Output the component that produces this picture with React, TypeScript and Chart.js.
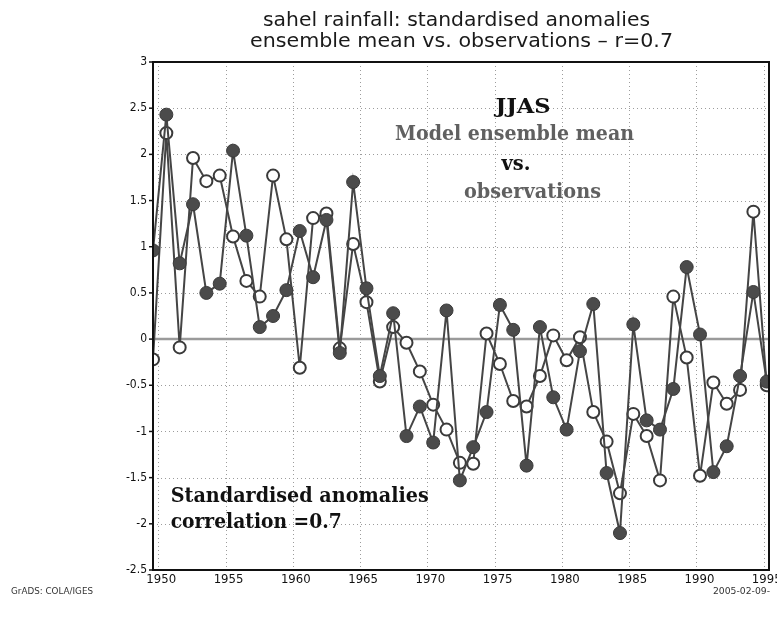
import React, { useEffect, useRef } from "react";
import { Chart, registerables } from "chart.js";

Chart.register(...registerables);

// ---------- data ----------
const years = [
  1949, 1950, 1951, 1952, 1953, 1954, 1955, 1956, 1957, 1958, 1959, 1960,
  1961, 1962, 1963, 1964, 1965, 1966, 1967, 1968, 1969, 1970, 1971, 1972,
  1973, 1974, 1975, 1976, 1977, 1978, 1979, 1980, 1981, 1982, 1983, 1984,
  1985, 1986, 1987, 1988, 1989, 1990, 1991, 1992, 1993, 1994, 1995,
];

// filled markers
const modelMean = [
  0.96, 2.43, 0.82, 1.46, 0.5, 0.6, 2.04, 1.12, 0.13, 0.25, 0.53, 1.17,
  0.67, 1.29, -0.15, 1.7, 0.55, -0.4, 0.28, -1.05, -0.73, -1.12, 0.31, -1.53,
  -1.17, -0.79, 0.37, 0.1, -1.37, 0.13, -0.63, -0.98, -0.13, 0.38, -1.45, -2.1,
  0.16, -0.88, -0.98, -0.54, 0.78, 0.05, -1.44, -1.16, -0.4, 0.51, -0.46,
];

// open markers
const observations = [
  -0.22, 2.23, -0.09, 1.96, 1.71, 1.77, 1.11, 0.63, 0.46, 1.77, 1.08, -0.31,
  1.31, 1.36, -0.1, 1.03, 0.4, -0.46, 0.13, -0.04, -0.35, -0.71, -0.98, -1.34,
  -1.35, 0.06, -0.27, -0.67, -0.73, -0.4, 0.04, -0.23, 0.02, -0.79, -1.11, -1.67,
  -0.81, -1.05, -1.53, 0.46, -0.2, -1.48, -0.47, -0.7, -0.55, 1.38, -0.5,
];

const yearTicks = [1950, 1955, 1960, 1965, 1970, 1975, 1980, 1985, 1990, 1995];
const valueTicks = [-2.5, -2, -1.5, -1, -0.5, 0, 0.5, 1, 1.5, 2, 2.5, 3];

const titleLines = [
  "sahel rainfall: standardised anomalies",
  "ensemble mean vs. observations \u2013 r=0.7",
];
const footerLeft = "GrADS: COLA/IGES";
const footerRight = "2005-02-09-";

// ---------- drawing helpers ----------
const NARROW = "'Liberation Sans Narrow', 'DejaVu Sans Condensed', 'Arial Narrow', sans-serif";
const SERIF = "'DejaVu Serif', 'Liberation Serif', serif";
const SANS = "'DejaVu Sans', 'Liberation Sans', sans-serif";

function fitText(
  ctx: CanvasRenderingContext2D,
  text: string,
  x: number,
  y: number,
  width: number,
  align: CanvasTextAlign
) {
  const m = ctx.measureText(text).width || 1;
  ctx.save();
  ctx.translate(x, y);
  ctx.scale(width / m, 1);
  ctx.textAlign = align;
  ctx.textBaseline = "alphabetic";
  ctx.fillText(text, 0, 0);
  ctx.restore();
}

const decorPlugin = {
  id: "decor",
  beforeDatasetsDraw(chart: any) {
    const { ctx, chartArea: a, scales } = chart;
    const xs = scales.xYear;
    const ys = scales.y;
    ctx.save();
    ctx.strokeStyle = "#9c9c9c";
    ctx.lineWidth = 1;
    ctx.setLineDash([1, 3]);
    for (const t of yearTicks) {
      const x = Math.round(xs.getPixelForValue(t)) + 0.5;
      ctx.beginPath();
      ctx.moveTo(x, a.top);
      ctx.lineTo(x, a.bottom);
      ctx.stroke();
    }
    for (const v of valueTicks) {
      if (v === 0) continue;
      const y = Math.round(ys.getPixelForValue(v)) + 0.5;
      ctx.beginPath();
      ctx.moveTo(a.left, y);
      ctx.lineTo(a.right, y);
      ctx.stroke();
    }
    ctx.setLineDash([]);
    ctx.strokeStyle = "#9a9a9a";
    ctx.lineWidth = 2.5;
    const y0 = ys.getPixelForValue(0);
    ctx.beginPath();
    ctx.moveTo(a.left, y0);
    ctx.lineTo(a.right, y0);
    ctx.stroke();
    ctx.restore();
    // clip the series to the plot frame
    ctx.save();
    ctx.beginPath();
    ctx.rect(a.left, a.top, a.right - a.left, a.bottom - a.top);
    ctx.clip();
  },
  afterDatasetsDraw(chart: any) {
    const { ctx, chartArea: a, scales } = chart;
    ctx.restore();
    const ys = scales.y;
    ctx.save();
    ctx.strokeStyle = "#111";
    ctx.lineWidth = 2;
    ctx.strokeRect(a.left, a.top, a.right - a.left, a.bottom - a.top);
    ctx.lineWidth = 1.5;
    for (const v of valueTicks) {
      const y = ys.getPixelForValue(v);
      ctx.beginPath();
      ctx.moveTo(a.left - 4, y);
      ctx.lineTo(a.left, y);
      ctx.stroke();
    }
    ctx.restore();
  },
  afterDraw(chart: any) {
    const { ctx } = chart;
    ctx.save();
    // title
    ctx.fillStyle = "#1a1a1a";
    ctx.font = `19px ${SANS}`;
    fitText(ctx, titleLines[0], 456.5, 26, 387, "center");
    fitText(ctx, titleLines[1], 461.5, 47, 423, "center");

    // annotations
    ctx.font = `bold 20px ${SERIF}`;
    ctx.fillStyle = "#111";
    fitText(ctx, "JJAS", 523, 113, 55, "center");
    fitText(ctx, "vs.", 516, 170, 29, "center");
    ctx.fillStyle = "#606060";
    fitText(ctx, "Model ensemble mean", 514.5, 140, 239, "center");
    fitText(ctx, "observations", 532.5, 198, 137, "center");
    ctx.fillStyle = "#111";
    fitText(ctx, "Standardised anomalies", 170.7, 501.7, 258, "left");
    fitText(ctx, "correlation =0.7", 170.7, 528, 171, "left");

    // footer
    ctx.fillStyle = "#333";
    ctx.font = `9px ${NARROW}`;
    fitText(ctx, footerLeft, 11, 594, 82, "left");
    fitText(ctx, footerRight, 713, 594, 57, "left");
    ctx.restore();
  },
};

export default function App() {
  const canvasRef = useRef<HTMLCanvasElement | null>(null);

  useEffect(() => {
    document.body.style.margin = "0";
    const canvas = canvasRef.current;
    if (!canvas) return;

    const chart = new Chart(canvas, {
      type: "line",
      data: {
        datasets: [
          {
            label: "Model ensemble mean",
            data: years.map((yr, i) => ({ x: yr, y: modelMean[i] })),
            borderColor: "#454545",
            borderWidth: 2,
            pointRadius: 6.5,
            pointBackgroundColor: "#4b4b4b",
            pointBorderColor: "#3a3a3a",
            pointBorderWidth: 1,
            tension: 0,
            clip: false,
            xAxisID: "x",
            yAxisID: "y",
          } as any,
          {
            label: "observations",
            data: years.map((yr, i) => ({ x: yr, y: observations[i] })),
            borderColor: "#454545",
            borderWidth: 2,
            pointRadius: 6,
            pointBackgroundColor: "#ffffff",
            pointBorderColor: "#3a3a3a",
            pointBorderWidth: 2,
            tension: 0,
            clip: false,
            xAxisID: "x",
            yAxisID: "y",
          } as any,
        ],
      },
      options: {
        responsive: false,
        maintainAspectRatio: false,
        animation: false,
        layout: { padding: { top: 62, right: 5, left: 0, bottom: 0 } },
        plugins: {
          legend: { display: false },
          tooltip: { enabled: false },
          title: { display: false },
        },
        scales: {
          x: { type: "linear", display: false, min: 1949, max: 1995.17 },
          xYear: {
            type: "linear",
            position: "bottom",
            min: 1949.61,
            max: 1995.39,
            grid: { display: false, drawTicks: false, tickLength: 0 },
            border: { display: false },
            afterBuildTicks: (s: any) => {
              s.ticks = yearTicks.map((v) => ({ value: v }));
            },
            afterFit: (s: any) => {
              s.height = 51;
              s.paddingLeft = 0;
              s.paddingRight = 0;
            },
            ticks: {
              autoSkip: false,
              maxRotation: 0,
              minRotation: 0,
              padding: 2,
              labelOffset: 3,
              color: "#111",
              font: { family: NARROW, size: 13 },
              callback: (v: any) => String(v),
            },
          },
          y: {
            type: "linear",
            min: -2.5,
            max: 3,
            grid: { display: false, drawTicks: false, tickLength: 0 },
            border: { display: false },
            afterBuildTicks: (s: any) => {
              s.ticks = valueTicks.map((v) => ({ value: v }));
            },
            afterFit: (s: any) => {
              s.width = 153;
              s.paddingTop = 0;
              s.paddingBottom = 0;
            },
            ticks: {
              padding: 6,
              color: "#111",
              font: { family: NARROW, size: 12 },
              callback: (v: any) => String(v),
            },
          },
        } as any,
      },
      plugins: [decorPlugin],
    });

    return () => chart.destroy();
  }, []);

  return (
    <div style={{ width: 777, height: 621, background: "#fff" }}>
      <canvas ref={canvasRef} width={777} height={621} style={{ display: "block" }} />
    </div>
  );
}
